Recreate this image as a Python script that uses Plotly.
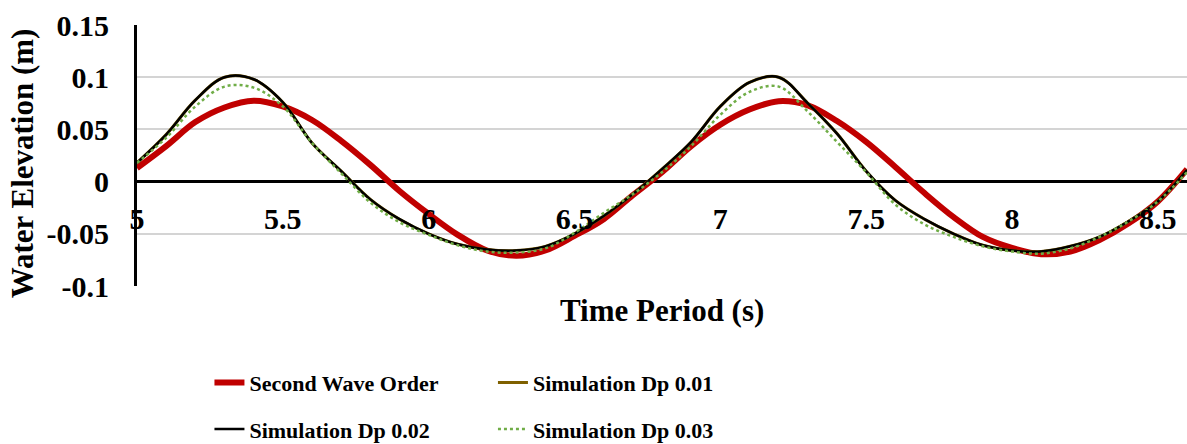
import plotly.graph_objects as go

time_s = [5.0, 5.1, 5.2, 5.3, 5.4, 5.5, 5.6, 5.7, 5.8, 5.9,
          6.0, 6.1, 6.2, 6.3, 6.4, 6.5, 6.6, 6.7, 6.8, 6.9,
          7.0, 7.1, 7.2, 7.3, 7.4, 7.5, 7.6, 7.7, 7.8, 7.9,
          8.0, 8.1, 8.2, 8.3, 8.4, 8.5, 8.6]

second_wave_order = [0.013, 0.034, 0.057, 0.071, 0.0775, 0.072, 0.059, 0.039, 0.016, -0.009,
                     -0.031, -0.051, -0.066, -0.071, -0.066, -0.052, -0.036, -0.013, 0.009, 0.034,
                     0.0545, 0.069, 0.077, 0.073, 0.058, 0.038, 0.014, -0.011, -0.034, -0.053,
                     -0.0635, -0.0695, -0.067, -0.056, -0.040, -0.019, 0.012]

sim_dp_001 = [0.018, 0.045, 0.078, 0.100, 0.098, 0.076, 0.037, 0.010, -0.017, -0.036,
              -0.050, -0.060, -0.065, -0.066, -0.062, -0.050, -0.033, -0.012, 0.012, 0.038,
              0.072, 0.095, 0.100, 0.075, 0.046, 0.010, -0.018, -0.036, -0.050, -0.061,
              -0.066, -0.067, -0.062, -0.053, -0.038, -0.019, 0.011]

sim_dp_002 = [0.018, 0.045, 0.078, 0.100, 0.098, 0.076, 0.037, 0.010, -0.017, -0.036,
              -0.050, -0.060, -0.065, -0.066, -0.062, -0.050, -0.033, -0.012, 0.012, 0.038,
              0.072, 0.095, 0.100, 0.075, 0.046, 0.010, -0.018, -0.036, -0.050, -0.061,
              -0.066, -0.067, -0.062, -0.053, -0.038, -0.019, 0.011]

sim_dp_003 = [0.018, 0.042, 0.072, 0.091, 0.090, 0.072, 0.037, 0.008, -0.020, -0.039,
              -0.051, -0.061, -0.067, -0.068, -0.064, -0.049, -0.030, -0.012, 0.009, 0.034,
              0.064, 0.086, 0.091, 0.067, 0.038, 0.009, -0.022, -0.041, -0.053, -0.062,
              -0.067, -0.069, -0.064, -0.053, -0.038, -0.019, 0.009]

x_ticks = [5, 5.5, 6, 6.5, 7, 7.5, 8, 8.5]
x_tick_labels = ["5", "5.5", "6", "6.5", "7", "7.5", "8", "8.5"]
y_ticks = [-0.1, -0.05, 0, 0.05, 0.1, 0.15]
y_tick_labels = ["-0.1", "-0.05", "0", "0.05", "0.1", "0.15"]

FONT = "Liberation Serif, Times New Roman, serif"

fig = go.Figure()

fig.add_trace(go.Scatter(x=time_s, y=second_wave_order, mode="lines", line_shape="spline",
                         name="Second Wave Order", line=dict(color="#C00000", width=6),
                         legend="legend", legendgroup="a"))
fig.add_trace(go.Scatter(x=time_s, y=sim_dp_001, mode="lines", line_shape="spline",
                         name="Simulation Dp 0.01", line=dict(color="#7F6000", width=3),
                         legend="legend2", legendgroup="b"))
fig.add_trace(go.Scatter(x=time_s, y=sim_dp_002, mode="lines", line_shape="spline",
                         name="Simulation Dp 0.02", line=dict(color="#000000", width=2.5),
                         legend="legend", legendgroup="c"))
fig.add_trace(go.Scatter(x=time_s, y=sim_dp_003, mode="lines", line_shape="spline",
                         name="Simulation Dp 0.03", line=dict(color="#70AD47", width=2.5, dash="dot"),
                         legend="legend2", legendgroup="d"))

legend_common = dict(
    orientation="v", xanchor="left", yanchor="top", y=-0.29,
    font=dict(family=FONT, size=22, color="black", weight="bold"),
    bgcolor="rgba(0,0,0,0)", tracegroupgap=15, itemwidth=30,
)

fig.update_layout(
    width=1187, height=444,
    margin=dict(l=137, r=0, t=25, b=158, autoexpand=False),
    paper_bgcolor="white", plot_bgcolor="white",
    font=dict(family=FONT, color="black"),
    xaxis=dict(
        range=[5, 8.6], tickmode="array", tickvals=x_ticks, ticktext=x_tick_labels,
        anchor="free", position=0.4, showgrid=False, zeroline=False, showline=False,
        ticks="outside", ticklen=10, tickcolor="rgba(0,0,0,0)", automargin=False,
        tickfont=dict(family=FONT, size=30, color="black", weight="bold"),
    ),
    yaxis=dict(
        range=[-0.1, 0.15], tickmode="array", tickvals=y_ticks, ticktext=y_tick_labels,
        showgrid=True, gridcolor="#D4D4D4", gridwidth=2,
        zeroline=True, zerolinecolor="black", zerolinewidth=3,
        showline=True, linecolor="black", linewidth=3,
        ticks="outside", ticklen=19, tickcolor="rgba(0,0,0,0)", automargin=False,
        tickfont=dict(family=FONT, size=30, color="black", weight="bold"),
    ),
    legend=dict(x=0.069, **legend_common),
    legend2=dict(x=0.339, **legend_common),
    showlegend=True,
)

fig.add_annotation(text="Time Period (s)", xref="paper", yref="paper", x=0.5, y=-0.092,
                   xanchor="center", yanchor="middle", showarrow=False,
                   font=dict(family=FONT, size=31, color="black", weight="bold"))
fig.add_annotation(text="Water Elevation (m)", xref="paper", yref="paper", x=-0.1095, y=0.47,
                   xanchor="center", yanchor="middle", showarrow=False, textangle=-90,
                   font=dict(family=FONT, size=31, color="black", weight="bold"))

fig.write_html("out.html", config={"displayModeBar": False},
               post_script="document.body.style.margin='0';")
